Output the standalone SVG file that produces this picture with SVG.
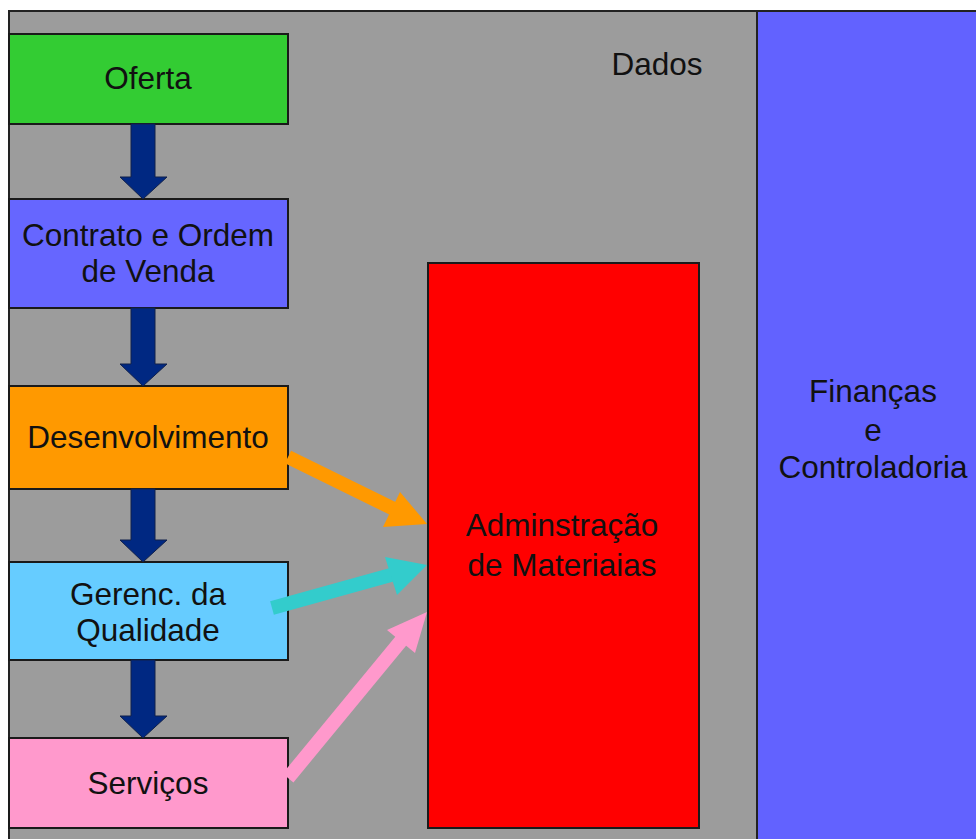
<svg xmlns="http://www.w3.org/2000/svg" width="976" height="839" viewBox="0 0 976 839">
  <defs>
    <style>
      .box { stroke: #1a1a1a; stroke-width: 2; }
      .lbl { font-family: "Liberation Sans", Arial, sans-serif; font-size: 31.5px; fill: #111; text-anchor: middle; }
      .down { fill: #002882; stroke: #10204a; stroke-width: 1; }
    </style>
  </defs>

  <rect x="0" y="0" width="976" height="839" fill="#ffffff"/>
  <!-- data area -->
  <rect id="dados-area" x="9" y="11" width="749" height="840" fill="#9c9c9c" stroke="#222" stroke-width="2"/>
  <text class="lbl" x="657" y="75">Dados</text>

  <!-- finance panel -->
  <g id="financas">
    <rect x="757" y="11" width="222" height="840" fill="#6262ff" stroke="#222" stroke-width="2"/>
    <text class="lbl" x="873" y="402">Finanças</text>
    <text class="lbl" x="873" y="441">e</text>
    <text class="lbl" x="873" y="478">Controladoria</text>
  </g>

  <g id="oferta">
    <rect class="box" x="9" y="34" width="279" height="90" fill="#33cc33"/>
    <text class="lbl" x="148" y="89">Oferta</text>
  </g>
  <g id="contrato">
    <rect class="box" x="9" y="199" width="279" height="109" fill="#6666ff"/>
    <text class="lbl" x="148" y="246">Contrato e Ordem</text>
    <text class="lbl" x="148" y="282">de Venda</text>
  </g>
  <g id="desenvolvimento">
    <rect class="box" x="9" y="386" width="279" height="103" fill="#ff9900"/>
    <text class="lbl" x="148" y="448">Desenvolvimento</text>
  </g>
  <g id="qualidade">
    <rect class="box" x="9" y="562" width="279" height="98" fill="#66ccff"/>
    <text class="lbl" x="148" y="605">Gerenc. da</text>
    <text class="lbl" x="148" y="641">Qualidade</text>
  </g>
  <g id="servicos">
    <rect class="box" x="9" y="738" width="279" height="90" fill="#ff99cc"/>
    <text class="lbl" x="148" y="794">Serviços</text>
  </g>
  <g id="materiais">
    <rect class="box" x="428" y="263" width="271" height="565" fill="#ff0000"/>
    <text class="lbl" x="562" y="536">Adminstração</text>
    <text class="lbl" x="562" y="576">de Materiaias</text>
  </g>

  <g id="connectors">
    <!-- flow arrows down the chain -->
    <polygon class="down" points="131,124 155,124 155,177 167,177 143,199 120,177 131,177"/>
    <polygon class="down" points="131,308 155,308 155,364 167,364 143,386 120,364 131,364"/>
    <polygon class="down" points="131,489 155,489 155,540 167,540 143,562 120,540 131,540"/>
    <polygon class="down" points="131,660 155,660 155,716 167,716 143,738 120,716 131,716"/>

    <!-- feeds into materials -->
    <line x1="288" y1="457" x2="398" y2="511" stroke="#ff9900" stroke-width="14"/>
    <polygon points="427,524 400,492 383,527" fill="#ff9900"/>

    <line x1="272" y1="608" x2="398" y2="573" stroke="#33cccc" stroke-width="14"/>
    <polygon points="427,565 385,557 397,595" fill="#33cccc"/>

    <line x1="288" y1="778" x2="405" y2="636" stroke="#ff99cc" stroke-width="14"/>
    <polygon points="427,612 387,630 415,653" fill="#ff99cc"/>
  </g>
</svg>
